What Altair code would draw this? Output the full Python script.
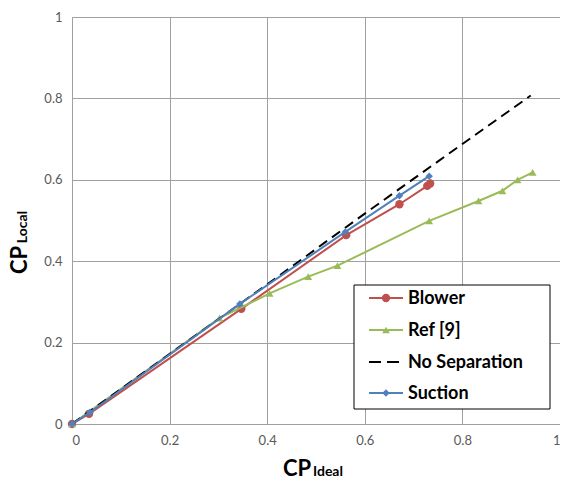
import altair as alt
import pandas as pd

# ---- data ----
blower_x = [0.0, 0.035, 0.347, 0.562, 0.671, 0.728, 0.734]
blower_y = [0.0, 0.025, 0.283, 0.464, 0.540, 0.585, 0.591]

ref9_x = [0.0, 0.302, 0.405, 0.484, 0.544, 0.732, 0.833, 0.882, 0.913, 0.944]
ref9_y = [0.0, 0.260, 0.321, 0.362, 0.389, 0.499, 0.548, 0.573, 0.600, 0.618]

nosep_x = [0.0, 0.2, 0.4, 0.6, 0.8, 0.94]
nosep_y = [0.0, 0.172, 0.343, 0.517, 0.688, 0.807]

suction_x = [0.0, 0.037, 0.344, 0.560, 0.671, 0.732]
suction_y = [0.0, 0.029, 0.295, 0.472, 0.561, 0.609]

series_names = ["Blower", "Ref [9]", "No Separation", "Suction"]
series_colors = ["#C0504D", "#9BBB59", "#000000", "#4F81BD"]
series_shapes = ["circle", "triangle-up", None, "diamond"]

x_ticks = [0, 0.2, 0.4, 0.6, 0.8, 1]
y_ticks = [0, 0.2, 0.4, 0.6, 0.8, 1]

W, H = 488, 407
FONT = "Lato"
ROT = 270

xs = [blower_x, ref9_x, nosep_x, suction_x]
ys = [blower_y, ref9_y, nosep_y, suction_y]

xscale = alt.Scale(domain=[0, 1], nice=False)
yscale = alt.Scale(domain=[0, 1], nice=False)

xaxis = alt.Axis(values=x_ticks, format="~g", title=None, grid=True,
                 tickSize=0, labelPadding=10, labelFontSize=13,
                 labelColor="#595959", labelFont=FONT,
                 domainColor="#a0a0a0", gridColor="#a0a0a0")
yaxis = alt.Axis(values=y_ticks, format="~g", title=None, grid=True,
                 tickSize=0, labelPadding=10, labelFontSize=13,
                 labelColor="#595959", labelFont=FONT,
                 domainColor="#a0a0a0", gridColor="#a0a0a0")

layers = []
for i, name in enumerate(series_names):
    df = pd.DataFrame({"x": xs[i], "y": ys[i], "s": name})
    enc = dict(
        x=alt.X("x:Q", scale=xscale, axis=xaxis),
        y=alt.Y("y:Q", scale=yscale, axis=yaxis),
        order=alt.Order("x:Q"),
    )
    if series_shapes[i] is None:
        line = alt.Chart(df).mark_line(color=series_colors[i], strokeWidth=2,
                                       strokeDash=[10, 6]).encode(**enc)
        layers.append(line)
    else:
        line = alt.Chart(df).mark_line(color=series_colors[i], strokeWidth=2).encode(**enc)
        size = 70 if series_shapes[i] == "circle" else (60 if series_shapes[i] == "triangle-up" else 55)
        pts = alt.Chart(df).mark_point(shape=series_shapes[i], filled=True, opacity=1,
                                       color=series_colors[i], size=size).encode(
            x=alt.X("x:Q", scale=xscale), y=alt.Y("y:Q", scale=yscale))
        layers.append(line)
        layers.append(pts)

# ---- legend (drawn manually) ----
anchor = pd.DataFrame({"a": [0]})
box = alt.Chart(anchor).mark_rect(fill="white", stroke="black", strokeWidth=1).encode(
    x=alt.value(282), x2=alt.value(478), y=alt.value(268), y2=alt.value(392))
layers.append(box)
leg_y = [281, 313, 345, 376]
for i, name in enumerate(series_names):
    if series_shapes[i] is None:
        layers.append(alt.Chart(anchor).mark_rule(color="black", strokeWidth=2,
                                                  strokeDash=[12, 6]).encode(
            x=alt.value(297), x2=alt.value(331), y=alt.value(leg_y[i])))
    else:
        layers.append(alt.Chart(anchor).mark_rule(color=series_colors[i], strokeWidth=2).encode(
            x=alt.value(297), x2=alt.value(331), y=alt.value(leg_y[i])))
        size = 70 if series_shapes[i] == "circle" else (60 if series_shapes[i] == "triangle-up" else 55)
        layers.append(alt.Chart(anchor).mark_point(shape=series_shapes[i], filled=True, opacity=1,
                                                   color=series_colors[i], size=size).encode(
            x=alt.value(314), y=alt.value(leg_y[i])))
    layers.append(alt.Chart(anchor).mark_text(text=name, font=FONT, fontSize=18, fontWeight="bold",
                                              color="black", align="left", baseline="middle").encode(
        x=alt.value(336), y=alt.value(leg_y[i] + 1)))

# ---- axis titles with subscripts ----
layers.append(alt.Chart(anchor).mark_text(text="CP", font=FONT, fontSize=22, fontWeight="bold",
                                          color="black", align="left", baseline="alphabetic").encode(
    x=alt.value(211), y=alt.value(459)))
layers.append(alt.Chart(anchor).mark_text(text="Ideal", font=FONT, fontSize=14, fontWeight="bold",
                                          color="black", align="left", baseline="alphabetic").encode(
    x=alt.value(241), y=alt.value(459)))
# y title: centred, middle-baseline text rotated to read bottom-to-top
layers.append(alt.Chart(anchor).mark_text(text="CP", font=FONT, fontSize=22, fontWeight="bold",
                                          color="black", angle=ROT).encode(
    x=alt.value(-52), y=alt.value(243)))
layers.append(alt.Chart(anchor).mark_text(text="Local", font=FONT, fontSize=14, fontWeight="bold",
                                          color="black", angle=ROT).encode(
    x=alt.value(-49), y=alt.value(210)))

chart = alt.layer(*layers).properties(
    width=W, height=H,
    autosize=alt.AutoSizeParams(type="none"),
    padding={"left": 64, "top": 9, "right": 0, "bottom": 55},
).configure_view(stroke=None)

chart.save("out.html", embed_options={"renderer": "svg", "actions": False})
